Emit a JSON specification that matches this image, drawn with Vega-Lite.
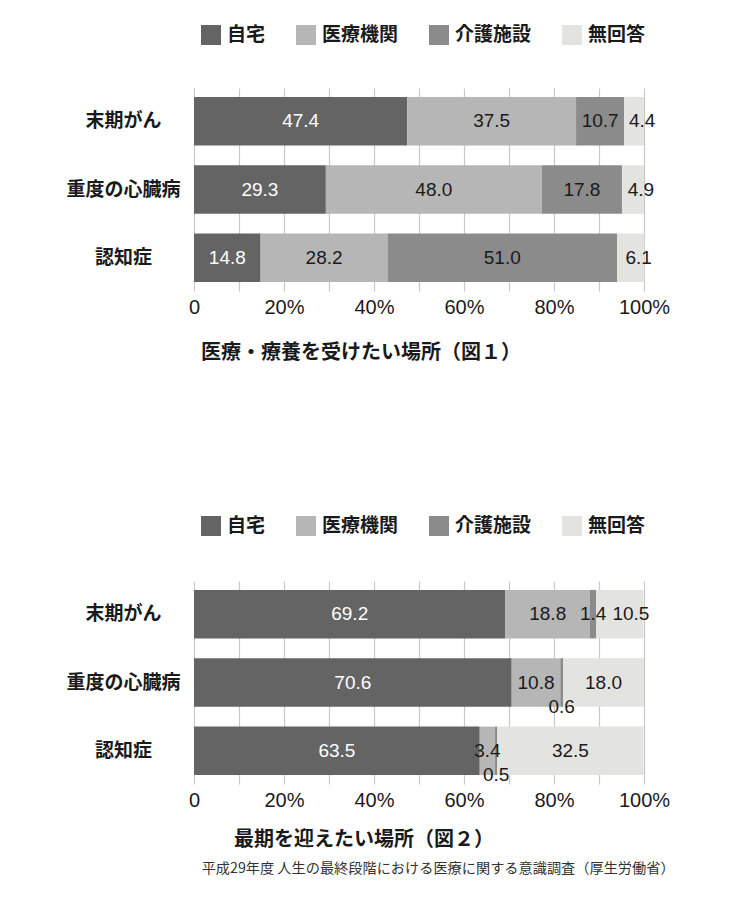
{
  "$schema": "https://vega.github.io/schema/vega-lite/v6.json",
  "background": "#ffffff",
  "padding": {"top": 25, "left": 65, "right": 10, "bottom": 10},
  "datasets": {
    "fig1": [
      {"cond": "末期がん", "place": "自宅", "k": 1, "value": 47.4},
      {"cond": "末期がん", "place": "医療機関", "k": 2, "value": 37.5},
      {"cond": "末期がん", "place": "介護施設", "k": 3, "value": 10.7},
      {"cond": "末期がん", "place": "無回答", "k": 4, "value": 4.4},
      {"cond": "重度の心臓病", "place": "自宅", "k": 1, "value": 29.3},
      {"cond": "重度の心臓病", "place": "医療機関", "k": 2, "value": 48.0},
      {"cond": "重度の心臓病", "place": "介護施設", "k": 3, "value": 17.8},
      {"cond": "重度の心臓病", "place": "無回答", "k": 4, "value": 4.9},
      {"cond": "認知症", "place": "自宅", "k": 1, "value": 14.8},
      {"cond": "認知症", "place": "医療機関", "k": 2, "value": 28.2},
      {"cond": "認知症", "place": "介護施設", "k": 3, "value": 51.0},
      {"cond": "認知症", "place": "無回答", "k": 4, "value": 6.1}
    ],
    "fig2": [
      {"cond": "末期がん", "place": "自宅", "k": 1, "value": 69.2},
      {"cond": "末期がん", "place": "医療機関", "k": 2, "value": 18.8},
      {"cond": "末期がん", "place": "介護施設", "k": 3, "value": 1.4},
      {"cond": "末期がん", "place": "無回答", "k": 4, "value": 10.5},
      {"cond": "重度の心臓病", "place": "自宅", "k": 1, "value": 70.6},
      {"cond": "重度の心臓病", "place": "医療機関", "k": 2, "value": 10.8},
      {"cond": "重度の心臓病", "place": "介護施設", "k": 3, "value": 0.6},
      {"cond": "重度の心臓病", "place": "無回答", "k": 4, "value": 18.0},
      {"cond": "認知症", "place": "自宅", "k": 1, "value": 63.5},
      {"cond": "認知症", "place": "医療機関", "k": 2, "value": 3.4},
      {"cond": "認知症", "place": "介護施設", "k": 3, "value": 0.5},
      {"cond": "認知症", "place": "無回答", "k": 4, "value": 32.5}
    ]
  },
  "title": {
    "text": "平成29年度 人生の最終段階における医療に関する意識調査（厚生労働省）",
    "orient": "bottom",
    "anchor": "end",
    "font": "Noto Sans CJK JP",
    "fontSize": 14.2,
    "fontWeight": "normal",
    "color": "#333333",
    "offset": 12,
    "dx": 5
  },
  "spacing": 153,
  "resolve": {"scale": {"color": "independent"}, "legend": {"color": "independent"}},
  "vconcat": [
    {
      "width": 450,
      "height": 203,
      "data": {"name": "fig1"},
      "title": {"text": "医療・療養を受けたい場所（図１）", "orient": "bottom", "anchor": "start", "frame": "group", "dx": 7, "offset": 26},
      "encoding": {
        "y": {"field": "cond", "type": "nominal", "sort": ["末期がん", "重度の心臓病", "認知症"], "scale": {"paddingInner": 0.29, "paddingOuter": 0.13}, "axis": {"title": null}},
        "x": {"field": "value", "type": "quantitative", "stack": "zero", "scale": {"domain": [0, 100], "nice": false}, "axis": {"title": null}},
        "order": {"field": "k", "type": "quantitative"}
      },
      "layer": [
        {
          "mark": {"type": "bar"},
          "encoding": {
            "color": {"field": "place", "type": "nominal", "sort": ["自宅", "医療機関", "介護施設", "無回答"], "scale": {"domain": ["自宅", "医療機関", "介護施設", "無回答"], "range": ["#646464", "#b6b6b6", "#8b8b8b", "#e3e3e0"]}, "legend": {"orient": "none", "legendX": 7, "legendY": -63, "direction": "horizontal", "title": null}}
          }
        },
        {
          "mark": {"type": "text", "fontSize": 19, "font": "Liberation Sans"},
          "encoding": {
            "x": {"field": "value", "type": "quantitative", "stack": "zero", "bandPosition": 0.5},
            "detail": {"field": "place"},
            "text": {"condition": {"test": "datum.place === '無回答' && datum.value < 12", "value": ""}, "field": "value", "type": "quantitative", "format": ".1f"},
            "color": {"condition": {"test": "datum.place === '自宅'", "value": "#ffffff"}, "value": "#1a1a1a"}
          }
        },
        {
          "mark": {"type": "text", "fontSize": 19, "font": "Liberation Sans", "dx": 8, "color": "#1a1a1a"},
          "encoding": {
            "x": {"field": "value", "type": "quantitative", "stack": "zero", "bandPosition": 0.5},
            "detail": {"field": "place"},
            "text": {"condition": {"test": "!(datum.place === '無回答' && datum.value < 12)", "value": ""}, "field": "value", "type": "quantitative", "format": ".1f"}
          }
        }
      ]
    },
    {
      "width": 450,
      "height": 203,
      "data": {"name": "fig2"},
      "title": {"text": "最期を迎えたい場所（図２）", "orient": "bottom", "anchor": "start", "frame": "group", "dx": 40, "offset": 20},
      "encoding": {
        "y": {"field": "cond", "type": "nominal", "sort": ["末期がん", "重度の心臓病", "認知症"], "scale": {"paddingInner": 0.29, "paddingOuter": 0.13}, "axis": {"title": null}},
        "x": {"field": "value", "type": "quantitative", "stack": "zero", "scale": {"domain": [0, 100], "nice": false}, "axis": {"title": null}},
        "order": {"field": "k", "type": "quantitative"}
      },
      "layer": [
        {
          "mark": {"type": "bar"},
          "encoding": {
            "color": {"field": "place", "type": "nominal", "sort": ["自宅", "医療機関", "介護施設", "無回答"], "scale": {"domain": ["自宅", "医療機関", "介護施設", "無回答"], "range": ["#646464", "#b6b6b6", "#8b8b8b", "#e3e3e0"]}, "legend": {"orient": "none", "legendX": 7, "legendY": -65, "direction": "horizontal", "title": null}}
          }
        },
        {
          "mark": {"type": "text", "fontSize": 19, "font": "Liberation Sans"},
          "encoding": {
            "x": {"field": "value", "type": "quantitative", "stack": "zero", "bandPosition": 0.5},
            "detail": {"field": "place"},
            "text": {"condition": {"test": "datum.value < 1 || (datum.place === '無回答' && datum.value < 12)", "value": ""}, "field": "value", "type": "quantitative", "format": ".1f"},
            "color": {"condition": {"test": "datum.place === '自宅'", "value": "#ffffff"}, "value": "#1a1a1a"}
          }
        },
        {
          "mark": {"type": "text", "fontSize": 19, "font": "Liberation Sans", "dx": 11, "color": "#1a1a1a"},
          "encoding": {
            "x": {"field": "value", "type": "quantitative", "stack": "zero", "bandPosition": 0.5},
            "detail": {"field": "place"},
            "text": {"condition": {"test": "!(datum.place === '無回答' && datum.value < 12)", "value": ""}, "field": "value", "type": "quantitative", "format": ".1f"}
          }
        },
        {
          "mark": {"type": "text", "fontSize": 19, "font": "Liberation Sans", "dy": 24, "color": "#1a1a1a"},
          "encoding": {
            "x": {"field": "value", "type": "quantitative", "stack": "zero", "bandPosition": 0.5},
            "detail": {"field": "place"},
            "text": {"condition": {"test": "datum.value >= 1", "value": ""}, "field": "value", "type": "quantitative", "format": ".1f"}
          }
        }
      ]
    }
  ],
  "config": {
    "view": {"stroke": null},
    "font": "Noto Sans CJK JP",
    "title": {"font": "Noto Sans CJK JP", "fontSize": 20, "fontWeight": "bold", "color": "#1a1a1a"},
    "axisX": {"grid": true, "gridColor": "#c8c8c8", "gridWidth": 1.2, "domain": false, "ticks": false, "tickSize": 0, "values": [0, 20, 40, 60, 80, 100], "labelExpr": "datum.value == 0 ? '0' : datum.value + '%'", "labelFont": "Liberation Sans", "labelFontSize": 20, "labelColor": "#1a1a1a", "labelPadding": 6, "labelFlush": false},
    "axisY": {"grid": false, "domain": false, "ticks": false, "tickSize": 0, "labelAlign": "center", "labelPadding": 71, "labelFont": "Noto Sans CJK JP", "labelFontWeight": "bold", "labelFontSize": 19, "labelColor": "#1a1a1a"},
    "legend": {"symbolType": "square", "symbolSize": 400, "symbolStrokeWidth": 0, "symbolOpacity": 1, "labelFont": "Noto Sans CJK JP", "labelFontWeight": "bold", "labelFontSize": 19, "labelColor": "#1a1a1a", "labelOffset": 6, "columnPadding": 30, "padding": 0}
  }
}
